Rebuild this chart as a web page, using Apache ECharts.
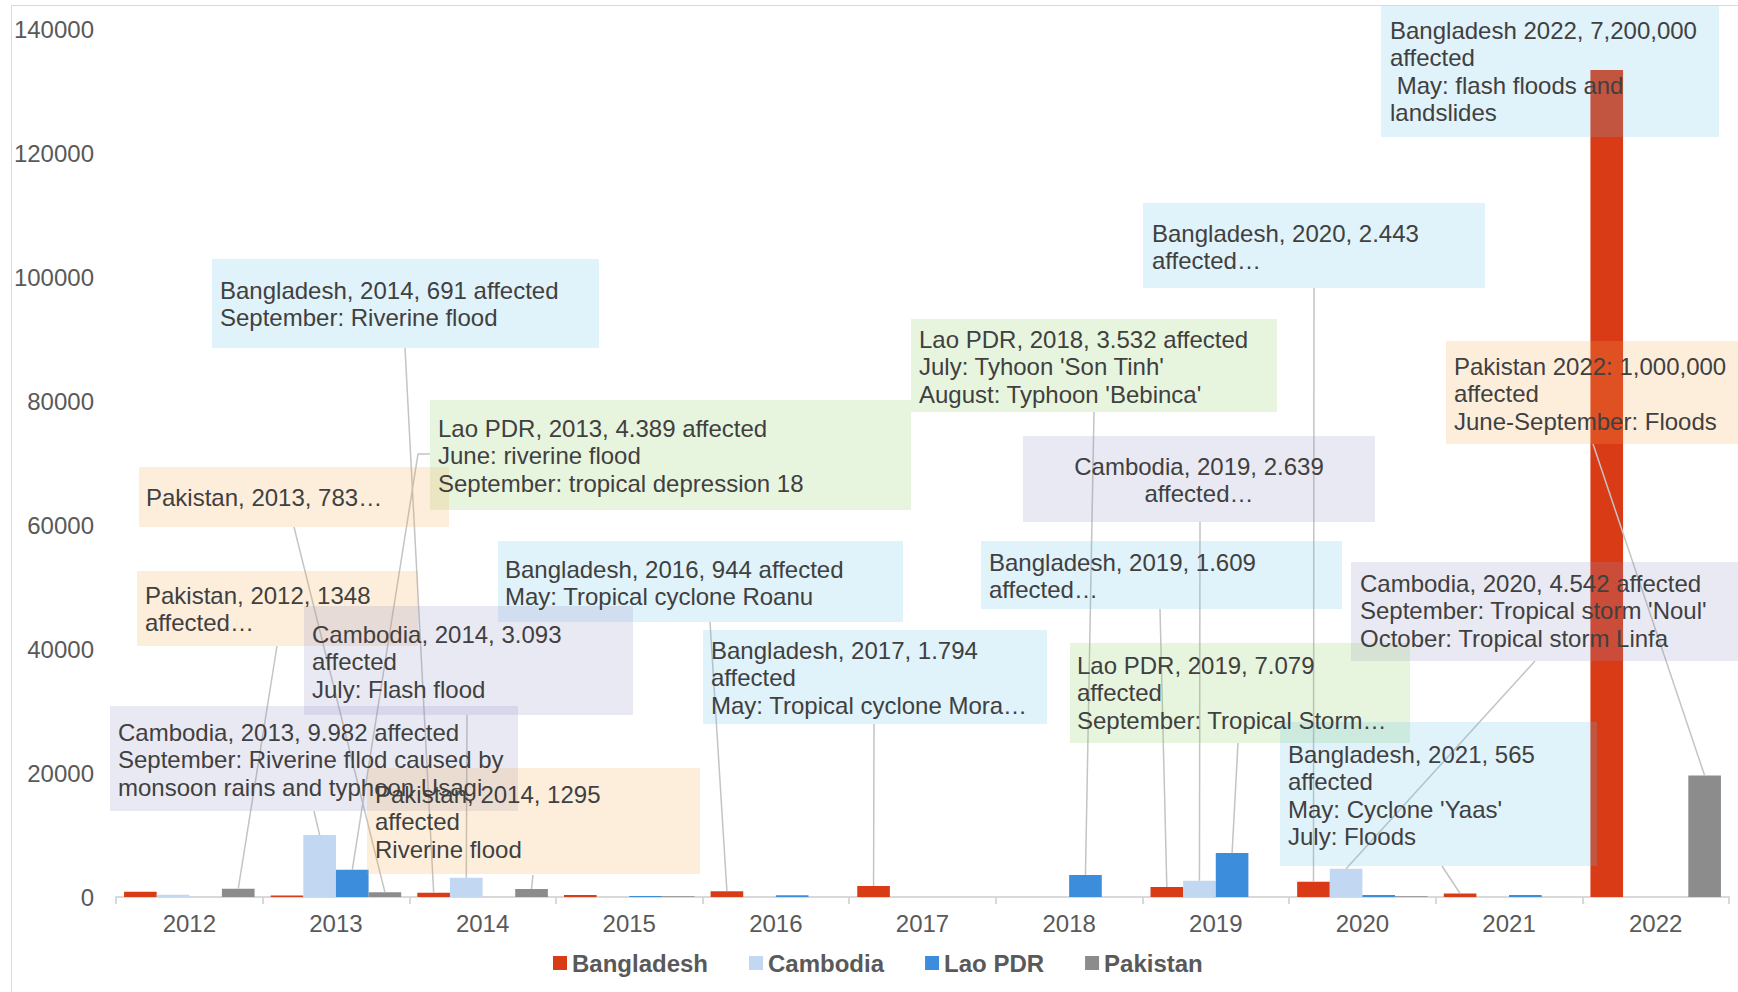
<!DOCTYPE html>
<html>
<head>
<meta charset="utf-8">
<title>Affected people by year</title>
<script src="https://cdn.jsdelivr.net/npm/echarts@6.0.0/dist/echarts.min.js"></script>
<style>
html, body { margin: 0; padding: 0; background: #fff; }
#chart { width: 1738px; height: 992px; }
</style>
</head>
<body>
<div id="chart"></div>
<script>
// data
var years = ['2012', '2013', '2014', '2015', '2016', '2017', '2018', '2019', '2020', '2021', '2022'];
var bangladesh = [850, 250, 691, 330, 944, 1794, 0, 1609, 2443, 565, 133400];
var cambodia = [350, 9982, 3093, 0, 0, 0, 0, 2639, 4542, 0, 0];
var laoPdr = [0, 4389, 0, 170, 300, 0, 3532, 7079, 330, 320, 0];
var pakistan = [1348, 783, 1295, 130, 0, 0, 0, 0, 120, 0, 19600];
var countries = ['Bangladesh', 'Cambodia', 'Lao PDR', 'Pakistan'];
var yTicks = { min: 0, max: 140000, step: 20000 };

// annotation texts: series index, year, lines
var notes = [
    { s: 0, year: '2022', lines: ['Bangladesh 2022, 7,200,000', 'affected', ' May: flash floods and', 'landslides'] },
    { s: 0, year: '2020', lines: ['Bangladesh, 2020, 2.443', 'affected\u2026'] },
    { s: 3, year: '2022', lines: ['Pakistan 2022: 1,000,000', 'affected', 'June-September: Floods'] },
    { s: 2, year: '2018', lines: ['Lao PDR, 2018, 3.532 affected', "July: Tyhoon 'Son Tinh'", "August: Typhoon 'Bebinca'"] },
    { s: 1, year: '2019', lines: ['Cambodia, 2019, 2.639', 'affected\u2026'] },
    { s: 0, year: '2019', lines: ['Bangladesh, 2019, 1.609', 'affected\u2026'] },
    { s: 1, year: '2020', lines: ['Cambodia, 2020, 4.542 affected', "September: Tropical storm 'Noul'", 'October: Tropical storm Linfa'] },
    { s: 2, year: '2019', lines: ['Lao PDR, 2019, 7.079', 'affected', 'September: Tropical Storm\u2026'] },
    { s: 0, year: '2021', lines: ['Bangladesh, 2021, 565', 'affected', "May: Cyclone 'Yaas'", 'July: Floods'] },
    { s: 0, year: '2017', lines: ['Bangladesh, 2017, 1.794', 'affected', 'May: Tropical cyclone Mora\u2026'] },
    { s: 0, year: '2016', lines: ['Bangladesh, 2016, 944 affected', 'May: Tropical cyclone Roanu'] },
    { s: 2, year: '2013', lines: ['Lao PDR, 2013, 4.389 affected', 'June: riverine flood', 'September: tropical depression 18'] },
    { s: 0, year: '2014', lines: ['Bangladesh, 2014, 691 affected', 'September: Riverine flood'] },
    { s: 3, year: '2013', lines: ['Pakistan, 2013, 783\u2026'] },
    { s: 3, year: '2012', lines: ['Pakistan, 2012, 1348', 'affected\u2026'] },
    { s: 1, year: '2014', lines: ['Cambodia, 2014, 3.093', 'affected', 'July: Flash flood'] },
    { s: 1, year: '2013', lines: ['Cambodia, 2013, 9.982 affected', 'September: Riverine fllod caused by', 'monsoon rains and typhoon Usagi'] },
    { s: 3, year: '2014', lines: ['Pakistan, 2014, 1295', 'affected', 'Riverine flood'] }
];

// box placement for each note: x, y, w, h, text x, first line centre, anchor x, anchor y (elbow optional)
var noteBoxes = [
    { x: 1381, y: 6, w: 338, h: 131, tx: 1390, ty: 30, ax: null },
    { x: 1143, y: 203, w: 342, h: 85, tx: 1152, ty: 233, ax: 1314, ay: 288 },
    { x: 1446, y: 341, w: 300, h: 103, tx: 1454, ty: 366, ax: 1593, ay: 444 },
    { x: 911, y: 319, w: 366, h: 93, tx: 919, ty: 339, ax: 1094, ay: 412 },
    { x: 1023, y: 436, w: 352, h: 86, tx: 1199, ty: 466, align: 'center', ax: 1200, ay: 522 },
    { x: 981, y: 541, w: 361, h: 68, tx: 989, ty: 562, ax: 1160, ay: 609 },
    { x: 1351, y: 562, w: 395, h: 99, tx: 1360, ty: 583, ax: 1535, ay: 661 },
    { x: 1070, y: 643, w: 340, h: 100, tx: 1077, ty: 665, ax: 1238, ay: 743 },
    { x: 1280, y: 722, w: 317, h: 144, tx: 1288, ty: 754, ax: 1442, ay: 866 },
    { x: 703, y: 630, w: 344, h: 94, tx: 711, ty: 650, ax: 874, ay: 724 },
    { x: 498, y: 541, w: 405, h: 81, tx: 505, ty: 569, ax: 710, ay: 622 },
    { x: 430, y: 400, w: 481, h: 110, tx: 438, ty: 428, ax: 430, ay: 454, ex: 418 },
    { x: 212, y: 259, w: 387, h: 89, tx: 220, ty: 290, ax: 405, ay: 348 },
    { x: 139, y: 467, w: 310, h: 60, tx: 146, ty: 497, ax: 294, ay: 527 },
    { x: 137, y: 571, w: 281, h: 75, tx: 145, ty: 595, ax: 277, ay: 646 },
    { x: 304, y: 606, w: 329, h: 109, tx: 312, ty: 634, ax: 467, ay: 715 },
    { x: 110, y: 706, w: 408, h: 105, tx: 118, ty: 732, ax: 314, ay: 811 },
    { x: 367, y: 768, w: 333, h: 106, tx: 375, ty: 794, ax: 533, ay: 875 }
];

var barColors = ['#DA3B17', '#C1D7F2', '#3C8DDC', '#8C8C8C'];
var boxColors = ['rgba(100,190,230,0.2)', 'rgba(145,145,195,0.2)', 'rgba(140,205,90,0.2)', 'rgba(245,170,80,0.2)'];
var font = '"Liberation Sans", Arial, sans-serif';

var chart = echarts.init(document.getElementById('chart'), null, { renderer: 'svg' });

var seriesData = [bangladesh, cambodia, laoPdr, pakistan];
var series = seriesData.map(function (d, k) {
    return {
        name: countries[k],
        type: 'bar',
        data: d,
        barGap: 0,
        barCategoryGap: '11%',
        itemStyle: { color: barColors[k] },
        z: 2
    };
});

var option = {
    animation: false,
    textStyle: { fontFamily: font },
    grid: { left: 116, right: 9, top: 29, bottom: 95 },
    legend: {
        left: 548,
        top: 946,
        icon: 'rect',
        itemWidth: 14,
        itemHeight: 14,
        itemGap: 41,
        textStyle: { fontSize: 24, fontWeight: 'bold', color: '#595959', fontFamily: font },
        data: countries
    },
    xAxis: {
        type: 'category',
        data: years,
        axisLine: { lineStyle: { color: '#D9D9D9', width: 2 } },
        axisTick: { show: true, length: 7, lineStyle: { color: '#D9D9D9', width: 2 } },
        axisLabel: { fontSize: 24, color: '#595959', margin: 14, fontFamily: font }
    },
    yAxis: {
        type: 'value',
        min: yTicks.min,
        max: yTicks.max,
        interval: yTicks.step,
        axisLine: { show: false },
        axisTick: { show: false },
        splitLine: { show: false },
        axisLabel: {
            fontSize: 24, color: '#595959', margin: 22, fontFamily: font,
            formatter: function (v) { return String(v); }
        }
    },
    series: series
};
chart.setOption(option);

// bar top centre from the library's own layout
function barTop(s, i) {
    var data = chart.getModel().getSeriesByIndex(s).getData();
    var l = data.getItemLayout(i);
    return [l.x + l.width / 2, Math.min(l.y, l.y + l.height)];
}

var graphics = [{
    type: 'rect',
    shape: { x: 11.5, y: 5.5, width: 1760, height: 1000 },
    style: { fill: 'none', stroke: '#D9D9D9', lineWidth: 1 },
    z: 0,
    silent: true
}];

notes.forEach(function (n, k) {
    var b = noteBoxes[k];
    if (b.ax !== null) {
        var end = barTop(n.s, years.indexOf(n.year));
        var pts = [[b.ax, b.ay]];
        if (b.ex) pts.push([b.ex, b.ay]);
        pts.push(end);
        graphics.push({
            type: 'polyline',
            shape: { points: pts },
            style: { stroke: '#C4C4C4', lineWidth: 1.5, fill: 'none' },
            z: 5,
            silent: true
        });
    }
    graphics.push({
        type: 'rect',
        shape: { x: b.x, y: b.y, width: b.w, height: b.h },
        style: { fill: boxColors[n.s] },
        z: 10,
        silent: true
    });
    graphics.push({
        type: 'text',
        x: b.tx,
        y: b.ty - 13.75,
        style: {
            text: n.lines.join('\n'),
            font: '24px ' + font,
            fill: '#404040',
            lineHeight: 27.5,
            align: b.align || 'left',
            verticalAlign: 'top'
        },
        z: 11,
        silent: true
    });
});

chart.setOption({ graphic: graphics });
</script>
</body>
</html>
